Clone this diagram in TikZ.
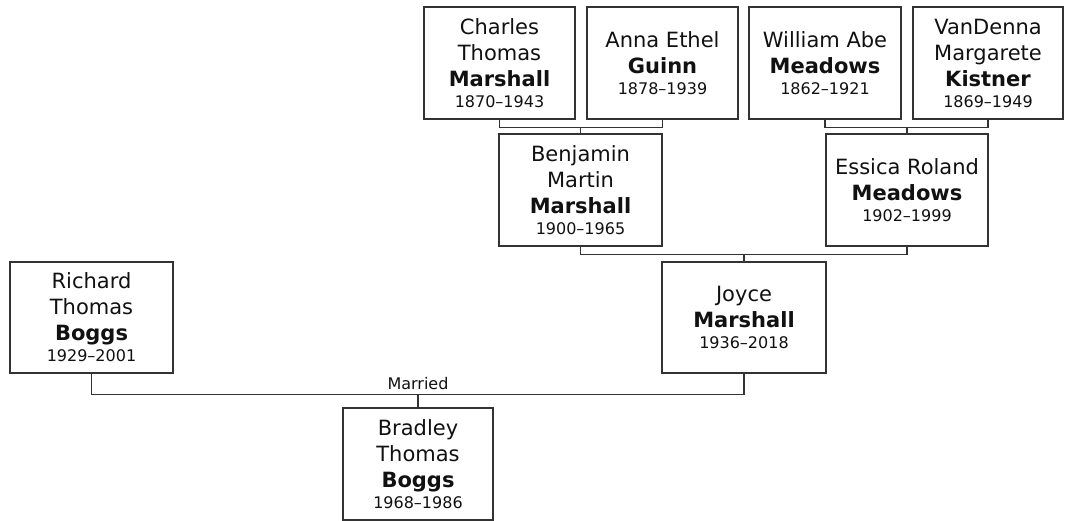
\documentclass[tikz,border=0pt]{standalone}
\usepackage{fontspec}
\setmainfont{DejaVu Sans}
\usepackage{xcolor}
\usepackage{tikz}
\definecolor{linegray}{HTML}{333333}
\definecolor{textdark}{HTML}{111111}
\newcommand{\yrs}[1]{\\[-5pt]{\fontsize{16}{19}\selectfont #1}}

\begin{document}
\begin{tikzpicture}[x=1pt,y=-1pt,
  person/.style={draw=linegray,line width=1.4pt,fill=white,inner sep=0pt,
    minimum width=151pt,minimum height=112pt,align=center,text=textdark,
    font=\fontsize{21}{26}\selectfont},
  link/.style={draw=linegray,line width=1.4pt}]
\useasboundingbox (0,0) rectangle (1066,521);
% grandparents
\node[person] (cm) at (499.5,63) {Charles\\Thomas\\\textbf{Marshall}\yrs{1870--1943}};
\node[person] (ag) at (662.5,63) {Anna Ethel\\\textbf{Guinn}\yrs{1878--1939}};
\node[person,minimum width=152pt] (wm) at (825,63) {William Abe\\\textbf{Meadows}\yrs{1862--1921}};
\node[person,minimum width=150pt] (vk) at (988,63) {VanDenna\\Margarete\\\textbf{Kistner}\yrs{1869--1949}};
% parents of Joyce
\node[person,minimum width=163pt] (bm) at (580.5,190) {Benjamin\\Martin\\\textbf{Marshall}\yrs{1900--1965}};
\node[person,minimum width=162pt] (em) at (907,190) {Essica Roland\\\textbf{Meadows}\yrs{1902--1999}};
% couple
\node[person,minimum width=163pt,minimum height=111pt] (rb) at (91.5,317.5) {Richard\\Thomas\\\textbf{Boggs}\yrs{1929--2001}};
\node[person,minimum width=164pt,minimum height=111pt] (jm) at (744,317.5) {Joyce\\\textbf{Marshall}\yrs{1936--2018}};
% child
\node[person,minimum width=150pt] (bb) at (418,464) {Bradley\\Thomas\\\textbf{Boggs}\yrs{1968--1986}};

% connectors
\draw[link] (cm.south) -- ++(0,8) coordinate (c1) -| (ag.south);
\draw[link] (bm.north) -- (bm.north |- c1);
\draw[link] (wm.south) -- ++(0,8) coordinate (c2) -| (vk.south);
\draw[link] (em.north) -- (em.north |- c2);
\draw[link] (bm.south) -- ++(0,8) coordinate (c3) -| (em.south);
\draw[link] (jm.north) -- (jm.north |- c3);
\draw[link] (rb.south) -- ++(0,21) coordinate (c4) -| (jm.south);
\draw[link] (bb.north) -- (bb.north |- c4) coordinate (c5);
\node[anchor=base,font=\fontsize{16}{19}\selectfont,text=textdark] (married) at ([yshift=5pt]c5) {Married};
\end{tikzpicture}
\end{document}
